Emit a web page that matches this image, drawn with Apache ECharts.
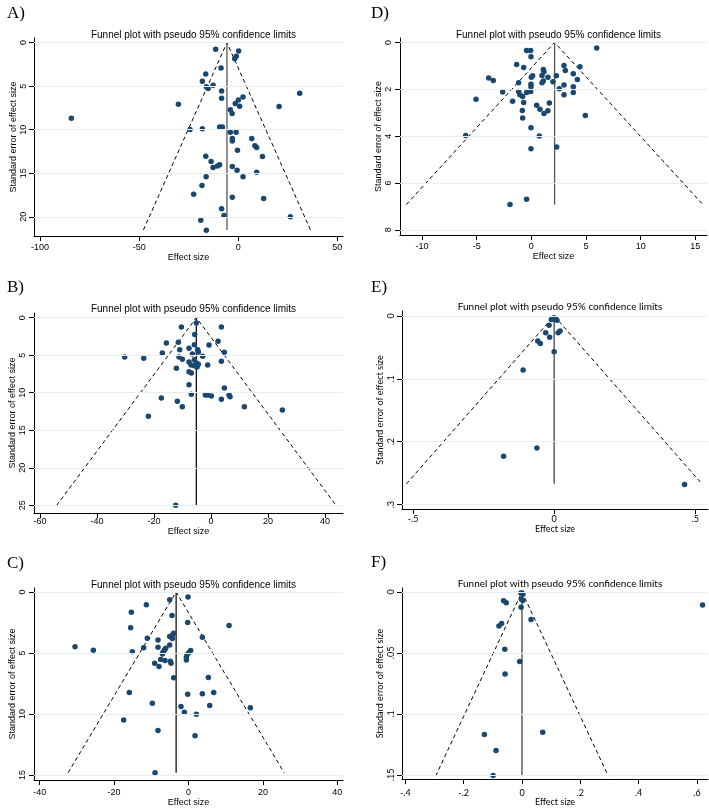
<!DOCTYPE html>
<html>
<head>
<meta charset="utf-8">
<script src="https://cdn.jsdelivr.net/npm/echarts@6/dist/echarts.min.js"></script>
<style>
  html, body { margin: 0; padding: 0; background: #fff; }
  #chart { width: 709px; height: 808px; }
</style>
</head>
<body>
<div id="chart"></div>
<script>
// [effect size, standard error] per study
var pointsA = [[-11.4,0.76],[0.2,0.96],[-1.0,1.57],[-1.8,1.84],[-8.7,2.9],[-16.4,3.6],[-18.1,4.44],[-12.7,4.9],[-16.1,5.08],[-15.2,5.28],[-8.4,5.54],[31.0,5.81],[2.4,6.23],[0.05,6.6],[-8.4,6.39],[-1.5,7.0],[-30.2,7.07],[0.7,7.3],[20.6,7.34],[-4.0,7.72],[-3.1,8.15],[-84.2,8.68],[-24.3,9.98],[-18.1,9.9],[-9.4,9.7],[-8.0,9.7],[-4.0,10.29],[-1.1,10.29],[-3.0,11.01],[-3.0,11.28],[6.8,11.01],[8.4,11.85],[9.3,12.05],[-0.4,12.35],[-16.4,13.04],[12.2,13.08],[-13.7,13.65],[-9.4,14.03],[-10.5,14.15],[-12.7,14.34],[-3.0,14.23],[-0.6,14.65],[9.3,14.88],[2.4,15.41],[-16.2,15.41],[-18.3,16.4],[-22.5,17.4],[-3.0,17.74],[12.8,17.9],[-8.4,19.08],[-7.2,19.85],[26.3,20.0],[-18.9,20.38],[-16.1,21.53]];
var pointsB = [[-10.4,1.24],[-5.15,0.71],[3.63,1.24],[-5.73,2.26],[-11.46,3.29],[-15.67,3.37],[-17.08,4.71],[-10.99,4.26],[-7.72,4.09],[-5.85,3.6],[-4.68,4.26],[-4.44,4.57],[-6.55,4.84],[-0.7,3.64],[2.46,3.15],[4.68,4.62],[-2.92,5.15],[-11.23,5.24],[-10.06,5.55],[-7.72,5.9],[-5.85,5.6],[-5.15,6.04],[-4.44,6.22],[-4.9,6.57],[-5.85,6.39],[-7.0,6.3],[-1.17,6.31],[3.63,5.82],[-30.29,5.24],[-23.6,5.42],[-12.16,6.75],[-7.72,7.19],[-6.9,7.37],[-7.72,8.93],[-6.9,10.21],[-1.99,10.3],[-1.17,10.3],[0.12,10.44],[3.63,10.88],[4.68,9.37],[6.32,10.3],[6.67,10.52],[-17.43,10.7],[-11.81,11.15],[-10.06,11.86],[11.7,11.86],[25.03,12.3],[-21.99,13.14],[-12.4,25.0]];
var pointsC = [[-5.06,0.64],[-0.13,0.4],[-11.34,1.04],[-15.37,1.65],[-4.44,1.92],[-15.55,2.93],[-0.22,2.5],[10.89,2.74],[-3.99,3.38],[-4.35,3.54],[-5.06,3.65],[-4.35,3.81],[-11.07,3.78],[3.72,3.7],[-8.2,3.94],[-12.05,4.56],[-8.2,4.53],[-5.06,4.34],[-6.14,4.61],[-6.5,4.77],[-6.85,4.93],[-7.03,5.09],[-30.51,4.48],[-25.58,4.77],[-15.1,4.9],[0.58,4.8],[0.13,4.96],[-0.4,5.14],[-0.58,5.36],[-0.58,5.57],[-7.48,5.54],[-6.32,5.62],[-4.88,5.68],[-4.7,5.84],[-9.1,5.84],[-7.93,6.1],[-3.99,7.03],[5.33,7.01],[-15.91,8.23],[-0.22,8.39],[3.72,8.34],[6.77,8.23],[-9.72,9.11],[-2.02,9.38],[5.69,9.3],[16.62,9.49],[-1.12,9.86],[2.11,10.02],[-17.43,10.5],[-8.2,11.35],[1.75,11.78],[-9.0,14.81]];
var pointsD = [[-0.43,0.34],[-0.06,0.34],[-0.03,0.61],[5.98,0.24],[-1.34,0.94],[-0.7,1.07],[2.99,0.98],[3.11,1.2],[4.45,1.04],[1.1,1.15],[1.16,1.25],[0.12,1.42],[0.0,1.49],[0.98,1.41],[1.52,1.49],[1.1,1.65],[0.98,1.72],[2.29,1.42],[1.98,1.68],[3.84,1.34],[4.21,1.58],[2.99,1.82],[2.56,1.98],[3.84,1.89],[3.84,2.14],[2.99,2.23],[-3.9,1.52],[-3.48,1.62],[-2.62,2.12],[-5.06,2.42],[-1.16,1.72],[-0.03,1.78],[-0.03,1.89],[-0.06,2.09],[-0.43,2.14],[-1.16,2.09],[-1.04,2.23],[-0.79,2.31],[-1.71,2.51],[-0.7,2.56],[0.49,2.68],[0.79,2.85],[1.16,3.03],[1.52,2.92],[1.65,2.59],[-0.82,2.9],[-0.79,3.23],[-0.03,3.64],[4.94,3.12],[-6.0,3.97],[0.73,3.99],[-0.03,4.54],[2.32,4.46],[-0.43,6.69],[-1.95,6.92]];
var pointsE = [[-0.004,0.005],[0.005,0.005],[-0.01,0.006],[0.01,0.007],[0.0,0.003],[-0.018,0.015],[-0.03,0.027],[-0.016,0.034],[0.014,0.027],[0.021,0.024],[-0.058,0.04],[-0.049,0.044],[0.0,0.057],[-0.11,0.086],[-0.061,0.21],[-0.179,0.223],[0.462,0.268]];
var pointsF = [[-0.004,0.001],[0.0,0.001],[0.003,0.002],[-0.002,0.006],[0.003,0.007],[-0.063,0.0072],[-0.054,0.0088],[-0.003,0.0125],[0.031,0.0226],[-0.079,0.028],[-0.07,0.026],[-0.059,0.047],[-0.008,0.057],[-0.058,0.0674],[0.619,0.0107],[-0.129,0.117],[0.071,0.115],[-0.089,0.13],[-0.099,0.1506]];

// pooled estimate and largest standard error (funnel apex / depth)
var pooled = { A: -5.7, B: -5.15, C: -3.33, D: 2.13, E: 0.0, F: 0.0 };
var seMax = { A: 21.5, B: 25.0, C: 14.81, D: 6.92, E: 0.267, F: 0.151 };

var xTicksA = [-100, -50, 0, 50],        yTicksA = [0, 5, 10, 15, 20];
var xTicksB = [-60, -40, -20, 0, 20, 40], yTicksB = [0, 5, 10, 15, 20, 25];
var xTicksC = [-40, -20, 0, 20, 40],     yTicksC = [0, 5, 10, 15];
var xTicksD = [-10, -5, 0, 5, 10, 15],   yTicksD = [0, 2, 4, 6, 8];
var xTicksE = [-0.5, 0, 0.5],            yTicksE = [0, 0.1, 0.2, 0.3];
var xTicksF = [-0.4, -0.2, 0, 0.2, 0.4, 0.6], yTicksF = [0, 0.05, 0.1, 0.15];

var panelLabels = ['A)', 'B)', 'C)', 'D)', 'E)', 'F)'];
var titleText = 'Funnel plot with pseudo 95% confidence limits';

var panels = [
    { id: 'A', pts: pointsA, xt: xTicksA, yt: yTicksA, left: 34, top: 38, width: 309, height: 198,
      xMin: -103.04, xMax: 52.84, yMin: -0.53, yMax: 22.2, titleY: 25, labY: 0, labX: 2,
      xm: 7, xg: 15, ym: 6, yg: 14.5, font: 'Liberation Sans', vcol: '#555' },
    { id: 'B', pts: pointsB, xt: xTicksB, yt: yTicksB, left: 34, top: 313, width: 309, height: 200,
      xMin: -62.1, xMax: 46.3, yMin: -0.62, yMax: 26.02, titleY: 299, labY: 274, labX: 2,
      xm: 4, xg: 12, ym: 7, yg: 14.5, font: 'Liberation Sans', vcol: '#111' },
    { id: 'C', pts: pointsC, xt: xTicksC, yt: yTicksC, left: 34, top: 588, width: 309, height: 197,
      xMin: -41.53, xMax: 41.52, yMin: -0.33, yMax: 15.42, titleY: 575, labY: 550, labX: 2,
      xm: 8, xg: 15, ym: 7, yg: 14.5, font: 'Liberation Sans', vcol: '#111' },
    { id: 'D', pts: pointsD, xt: xTicksD, yt: yTicksD, left: 400, top: 38, width: 307, height: 197,
      xMin: -12.01, xMax: 16.07, yMin: -0.19, yMax: 8.22, titleY: 25, labY: 0, labX: 366,
      xm: 7.5, xg: 15.5, ym: 7, yg: 12.5, font: 'Liberation Sans', vcol: '#555' },
    { id: 'E', pts: pointsE, xt: xTicksE, yt: yTicksE, left: 402, top: 311, width: 306, height: 198,
      xMin: -0.539, xMax: 0.545, yMin: -0.0077, yMax: 0.307, titleY: 297, labY: 274, labX: 366,
      xm: 6, xg: 14.5, ym: 6.5, yg: 17, font: 'Lato', vcol: '#444' },
    { id: 'F', pts: pointsF, xt: xTicksF, yt: yTicksF, left: 402, top: 588, width: 306, height: 196,
      xMin: -0.4114, xMax: 0.6377, yMin: -0.0032, yMax: 0.1535, titleY: 574, labY: 549, labX: 366,
      xm: 9, xg: 16, ym: 6.5, yg: 17, font: 'Lato', vcol: '#444' }
];

// Stata style: drop leading zero
function fmt(v) {
    return String(v).replace(/^(-?)0\./, '$1.');
}

var option = { animation: false, backgroundColor: '#fff', grid: [], xAxis: [], yAxis: [], series: [], title: [] };

panels.forEach(function (p, i) {
    var axisLine = { show: true, onZero: false, lineStyle: { color: '#000', width: 1 } };
    var tick = { show: true, length: 5, lineStyle: { color: '#000' } };
    option.grid.push({ left: p.left, top: p.top, width: p.width, height: p.height, containLabel: false });
    option.xAxis.push({
        gridIndex: i, type: 'value', min: p.xMin, max: p.xMax,
        name: 'Effect size', nameLocation: 'middle', nameGap: p.xg,
        nameTextStyle: { fontFamily: p.font, fontSize: 9, color: '#000', verticalAlign: 'top' },
        axisLine: axisLine,
        axisTick: Object.assign({ customValues: p.xt }, tick),
        axisLabel: { customValues: p.xt, formatter: fmt, margin: p.xm, fontFamily: p.font, fontSize: 9, color: '#000' },
        splitLine: { show: false }
    });
    option.yAxis.push({
        gridIndex: i, type: 'value', inverse: true, min: p.yMin, max: p.yMax,
        name: 'Standard error of effect size', nameLocation: 'middle', nameGap: p.yg, nameRotate: 90,
        nameTextStyle: { fontFamily: p.font, fontSize: 9, color: '#000' },
        axisLine: axisLine,
        axisTick: Object.assign({ customValues: p.yt }, tick),
        axisLabel: { customValues: p.yt, formatter: fmt, rotate: 90, margin: p.ym, fontFamily: p.font, fontSize: 9, color: '#000' },
        splitLine: { show: false }
    });

    var x0 = pooled[p.id], sm = seMax[p.id];
    // horizontal grid lines at y ticks
    option.series.push({
        type: 'line', xAxisIndex: i, yAxisIndex: i, data: [], silent: true, z: 1,
        markLine: {
            silent: true, symbol: ['none', 'none'], label: { show: false },
            lineStyle: { color: '#e6eef1', width: 1, type: 'solid' },
            data: p.yt.map(function (v) { return { yAxis: v }; })
        }
    });
    // pseudo 95% confidence limits
    option.series.push({
        type: 'line', xAxisIndex: i, yAxisIndex: i, symbol: 'none', silent: true, z: 2,
        lineStyle: { color: '#000', width: 1, type: [4, 3] },
        data: [[x0 - 1.96 * sm, sm], [x0, 0], [x0 + 1.96 * sm, sm]]
    });
    // pooled estimate
    option.series.push({
        type: 'line', xAxisIndex: i, yAxisIndex: i, symbol: 'none', silent: true, z: 2,
        lineStyle: { color: p.vcol, width: 1.3 },
        data: [[x0, 0], [x0, sm]]
    });
    option.series.push({
        type: 'scatter', xAxisIndex: i, yAxisIndex: i, clip: false, z: 3,
        symbol: 'circle', symbolSize: 5.5,
        itemStyle: { color: '#1a476f', opacity: 1 },
        data: p.pts
    });

    option.title.push({
        text: titleText, left: p.left + p.width / 2, top: p.titleY, textAlign: 'center',
        textStyle: { fontFamily: p.font, fontSize: 10, fontWeight: 'normal', color: '#000' }
    });
    option.title.push({
        text: panelLabels['ABCDEF'.indexOf(p.id)], left: p.labX, top: p.labY,
        textStyle: { fontFamily: 'Liberation Serif', fontSize: 17, fontWeight: 'normal', color: '#000' }
    });
});

var chart = echarts.init(document.getElementById('chart'));
chart.setOption(option);
window.onresize = chart.resize;
</script>
</body>
</html>
